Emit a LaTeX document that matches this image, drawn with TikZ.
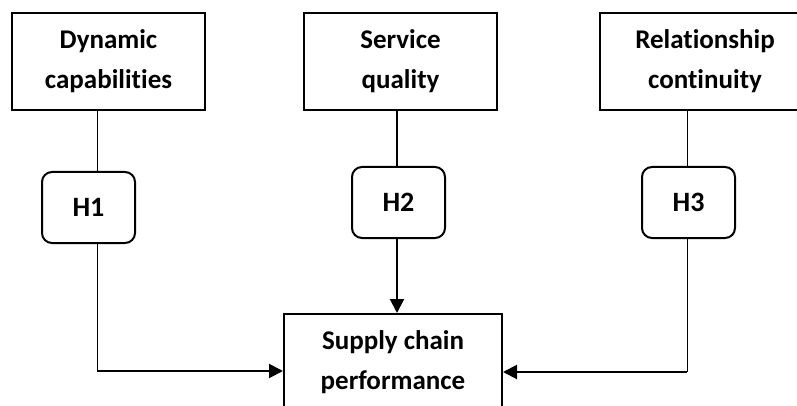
\documentclass[tikz,border=0pt]{standalone}
\usepackage{fontspec}
\setmainfont{Carlito}[Ligatures=NoCommon]
\usetikzlibrary{arrows.meta}
\begin{document}
\begin{tikzpicture}[x=1pt,y=-1pt,
  varbox/.style={draw, line width=2pt, rectangle, minimum width=193pt, minimum height=97pt, inner sep=0pt, align=center, font=\fontsize{27}{40}\selectfont\bfseries},
  hypbox/.style={draw, line width=2pt, rounded corners=10pt, minimum width=93pt, minimum height=71pt, inner sep=0pt, font=\fontsize{28}{30}\selectfont\bfseries},
  thinline/.style={line width=1pt},
  arrowline/.style={line width=2pt, -{Triangle[length=14pt,width=14pt]}}]
\useasboundingbox (0,0) rectangle (797,406);
\clip (0,0) rectangle (797,406);
\node[varbox] (dc) at (108.5,61.5) {Dynamic\\capabilities};
\node[varbox] (sq) at (400.5,61.5) {Service\\quality};
\node[varbox, minimum width=210pt] (rc) at (705,61.5) {Relationship\\continuity};
\node[hypbox] (h1) at (88.5,207.5) {H1};
\node[hypbox] (h2) at (398.5,202.5) {H2};
\node[hypbox] (h3) at (688.5,202.5) {H3};
\node[varbox, minimum width=218pt, minimum height=96pt] (scp) at (393,362) {Supply chain\\performance};
\coordinate (l1) at (97,371);
\coordinate (l2) at (397,0);
\coordinate (l3) at (687,372);
\draw[thinline] (dc.south -| l1) -- (h1.north -| l1);
\draw[line width=1.5pt] (sq.south -| l2) -- (h2.north -| l2);
\draw[thinline] (rc.south -| l3) -- (h3.north -| l3);
\draw[thinline] (h1.south -| l1) -- (l1);
\draw[arrowline] (l1) -- (scp.west |- l1);
\draw[arrowline] (h2.south -| l2) -- (scp.north -| l2);
\draw[thinline] (h3.south -| l3) -- (l3);
\draw[arrowline] (l3) -- (scp.east |- l3);
\end{tikzpicture}
\end{document}
